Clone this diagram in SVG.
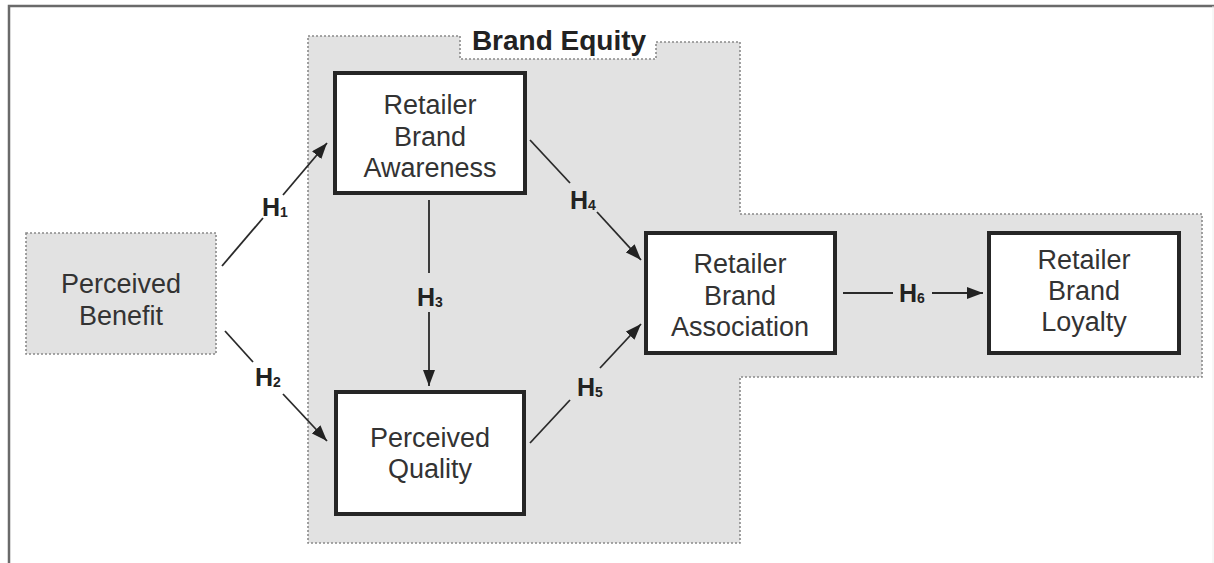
<svg xmlns="http://www.w3.org/2000/svg" width="1214" height="563" viewBox="0 0 1214 563">
<style>
.frame{fill:none;stroke:#6a6a6a;stroke-width:2.5}
.region{fill:#e2e2e2;stroke:#8a8a8a;stroke-width:1.6;stroke-dasharray:2 2}
.box{fill:#ffffff;stroke:#262626;stroke-width:4}
.dbox{fill:#e2e2e2;stroke:#8a8a8a;stroke-width:1.6;stroke-dasharray:2 2}
.t{font-family:"Liberation Sans",Arial,sans-serif;font-size:27px;fill:#333;text-anchor:middle}
.title{font-family:"Liberation Sans",Arial,sans-serif;font-size:28px;font-weight:bold;fill:#222;text-anchor:middle}
.lab{font-family:"Liberation Sans",Arial,sans-serif;font-size:25px;font-weight:bold;fill:#222}
.sub{font-size:14px}
.c{fill:none;stroke:#2a2a2a;stroke-width:1.8}
</style>
<defs>
<marker id="ah" markerWidth="16" markerHeight="12" refX="16" refY="6" orient="auto" markerUnits="userSpaceOnUse">
<path d="M0,0 L16,6 L0,12 z" fill="#222"/>
</marker>
</defs>
<rect width="1214" height="563" fill="#ffffff"/>
<path class="frame" d="M9,563 L9,6 L1214,6"/>
<line x1="1213" y1="6" x2="1213" y2="563" stroke="#eeeeee" stroke-width="1"/>
<g id="brand-equity">
<path class="region" d="M308,36 L460,36 L460,59 L656,59 L656,42 L740,42 L740,214 L1202,214 L1202,377 L740,377 L740,543 L308,543 Z"/>
<text class="title" x="559" y="50">Brand Equity</text>
</g>
<g id="perceived-benefit">
<rect class="dbox" x="26" y="233" width="190" height="121"/>
<text class="t" x="121" y="293">Perceived</text>
<text class="t" x="121" y="325">Benefit</text>
</g>
<g id="awareness">
<rect class="box" x="335" y="73" width="190" height="120"/>
<text class="t" x="430" y="114">Retailer</text>
<text class="t" x="430" y="146">Brand</text>
<text class="t" x="430" y="177">Awareness</text>
</g>
<g id="quality">
<rect class="box" x="336" y="392" width="188" height="122"/>
<text class="t" x="430" y="447">Perceived</text>
<text class="t" x="430" y="478">Quality</text>
</g>
<g id="association">
<rect class="box" x="646" y="233" width="189" height="120"/>
<text class="t" x="740" y="273">Retailer</text>
<text class="t" x="740" y="305">Brand</text>
<text class="t" x="740" y="336">Association</text>
</g>
<g id="loyalty">
<rect class="box" x="989" y="233" width="190" height="120"/>
<text class="t" x="1084" y="269">Retailer</text>
<text class="t" x="1084" y="300">Brand</text>
<text class="t" x="1084" y="331">Loyalty</text>
</g>
<g id="connectors">
<line class="c" x1="222" y1="266" x2="263" y2="218"/>
<line class="c" x1="283" y1="195" x2="327" y2="143" marker-end="url(#ah)"/>
<line class="c" x1="225" y1="331" x2="253" y2="362"/>
<line class="c" x1="283" y1="394" x2="327" y2="441" marker-end="url(#ah)"/>
<line class="c" x1="429" y1="200" x2="429" y2="273"/>
<line class="c" x1="429" y1="312" x2="429" y2="386" marker-end="url(#ah)"/>
<line class="c" x1="530" y1="140" x2="570" y2="183"/>
<line class="c" x1="597" y1="212" x2="641" y2="260" marker-end="url(#ah)"/>
<line class="c" x1="530" y1="443" x2="570" y2="400"/>
<line class="c" x1="600" y1="368" x2="641" y2="324" marker-end="url(#ah)"/>
<line class="c" x1="843" y1="293" x2="893" y2="293"/>
<line class="c" x1="932" y1="293" x2="983" y2="293" marker-end="url(#ah)"/>
<text class="lab" x="262" y="216">H<tspan class="sub" dy="1">1</tspan></text>
<text class="lab" x="255" y="386">H<tspan class="sub" dy="1">2</tspan></text>
<text class="lab" x="417" y="306">H<tspan class="sub" dy="1">3</tspan></text>
<text class="lab" x="570" y="209">H<tspan class="sub" dy="1">4</tspan></text>
<text class="lab" x="577" y="396">H<tspan class="sub" dy="1">5</tspan></text>
<text class="lab" x="899" y="302">H<tspan class="sub" dy="1">6</tspan></text>
</g>
</svg>
